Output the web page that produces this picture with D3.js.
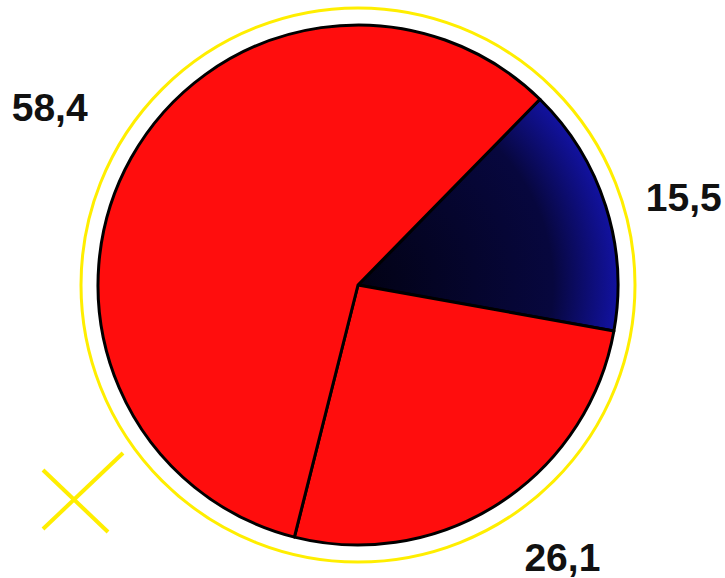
<!DOCTYPE html>
<html>
<head>
  <script src="https://d3js.org/d3.v7.min.js"></script>
  <style>
    body { margin: 0; background: #fff; }
    .label {
      fill: #111;
      font-family: "Liberation Sans", Arial, sans-serif;
      font-weight: bold;
      font-size: 39px;
    }
  </style>
</head>
<body>
  <svg id="chart"></svg>
  <script>
    var labels = ["15,5", "26,1", "58,4"];
    var values = [15.5, 26.1, 58.4];
    var colors = ["url(#navy)", "#ff0d0d", "#ff0d0d"];

    var width = 725, height = 578;
    var cx = 358, cy = 285, radius = 260;
    // small hand nudges so labels sit where the original put them
    var nudge = [[0, 16], [19, -15], [-10, -11]];

    var svg = d3.select("#chart")
      .attr("width", width)
      .attr("height", height);

    var grad = svg.append("defs").append("radialGradient")
      .attr("id", "navy")
      .attr("gradientUnits", "userSpaceOnUse")
      .attr("cx", 0).attr("cy", 0).attr("r", radius);
    grad.append("stop").attr("offset", "0%").attr("stop-color", "#020214");
    grad.append("stop").attr("offset", "75%").attr("stop-color", "#07073e");
    grad.append("stop").attr("offset", "100%").attr("stop-color", "#1212a0");

    var g = svg.append("g")
      .attr("transform", "translate(" + cx + "," + cy + ")");

    // yellow ring
    g.append("circle")
      .attr("r", 277)
      .style("fill", "none")
      .style("stroke", "#ffee00")
      .style("stroke-width", 3);

    var start = 44.4 * Math.PI / 180;
    var pie = d3.pie()
      .sort(null)
      .startAngle(start)
      .endAngle(start + 2 * Math.PI);

    var arc = d3.arc().innerRadius(0).outerRadius(radius);
    var labelArc = d3.arc().innerRadius(342).outerRadius(342);

    var arcs = pie(values);

    g.selectAll("path.slice")
      .data(arcs)
      .enter().append("path")
      .attr("class", "slice")
      .attr("d", arc)
      .style("fill", function(d, i) { return colors[i]; })
      .style("stroke", "#000")
      .style("stroke-width", 3)
      .style("stroke-linejoin", "round");

    g.selectAll("text.label")
      .data(arcs)
      .enter().append("text")
      .attr("class", "label")
      .attr("transform", function(d, i) {
        var c = labelArc.centroid(d);
        return "translate(" + (c[0] + nudge[i][0]) + "," + (c[1] + nudge[i][1]) + ")";
      })
      .attr("text-anchor", "middle")
      .attr("dy", "0.36em")
      .text(function(d, i) { return labels[i]; });

    // yellow cross marker
    svg.append("line")
      .attr("x1", 43).attr("y1", 470).attr("x2", 108).attr("y2", 532)
      .style("stroke", "#ffee00").style("stroke-width", 4);
    svg.append("line")
      .attr("x1", 43).attr("y1", 529).attr("x2", 123).attr("y2", 453)
      .style("stroke", "#ffee00").style("stroke-width", 4);
  </script>
</body>
</html>
